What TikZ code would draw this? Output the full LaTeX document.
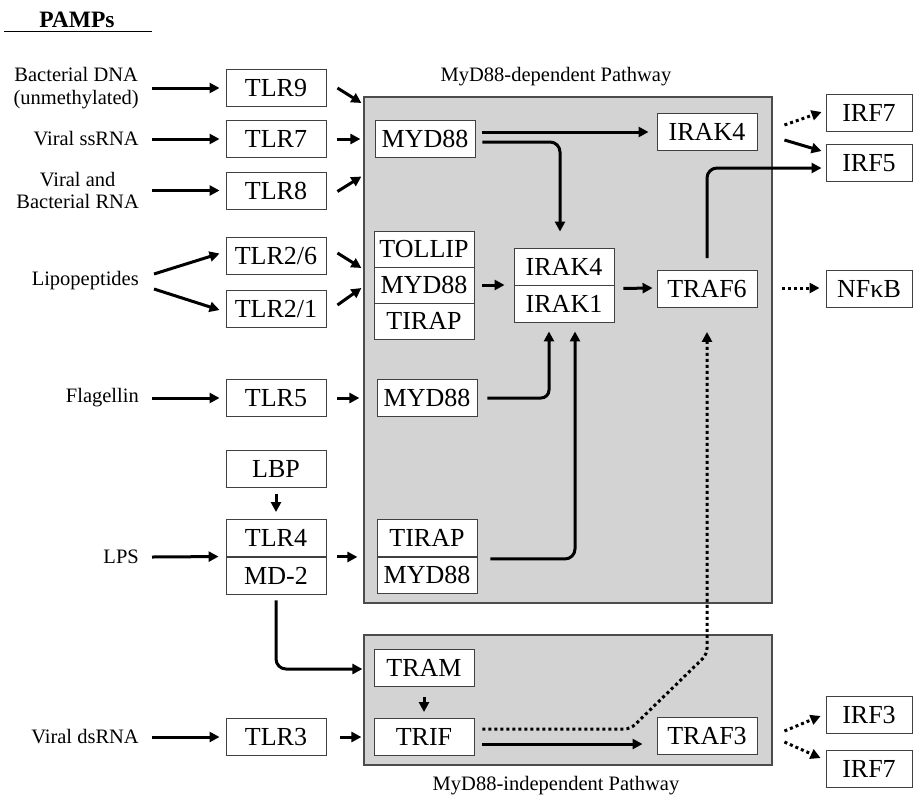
\documentclass[tikz,border=0pt]{standalone}
\usepackage{fontspec}
\setmainfont{Liberation Serif}
\usetikzlibrary{arrows.meta,calc}
\definecolor{panelgray}{RGB}{211,211,211}

\begin{document}
\begin{tikzpicture}[x=1pt,y=-1pt,
  box/.style={draw=black!75, line width=0.9pt, fill=white, minimum width=100pt,
    minimum height=37pt, inner sep=0pt, font=\fontsize{26}{28}\selectfont,
    text height=17pt, text depth=0pt},
  irf/.style={box, minimum width=86pt},
  lbl/.style={inner sep=0pt, align=center, font=\fontsize{20.5}{22.5}\selectfont, anchor=east},
  title/.style={inner sep=0pt, font=\fontsize{20.5}{22.5}\selectfont},
  panel/.style={draw=black!70, line width=1.2pt, fill=panelgray, inner sep=0pt},
  arr/.style={line width=3pt, -{Triangle[length=10pt,width=10pt]}},
  dotarr/.style={arr, dash pattern=on 3pt off 3pt},
]
\useasboundingbox (0,0) rectangle (917,801);

% pathway panels
\node[panel, minimum width=408pt, minimum height=506pt] (dep) at (568,350) {};
\node[panel, minimum width=408pt, minimum height=130pt] (indep) at (568,700) {};
\node[title] (deplbl) at (556,77) {MyD88-dependent Pathway};
\node[title] (indeplbl) at (556,786) {MyD88-independent Pathway};

% heading
\node[inner sep=0pt, font=\fontsize{23.5}{26}\selectfont\bfseries] (pamps) at (77,20) {PAMPs};
\draw[line width=1pt] (4,31) -- (152,31);

% ligands
\node[lbl] (bdna) at (139,88) {Bacterial DNA\\(unmethylated)};
\node[lbl] (ssrna) at (139,139) {Viral ssRNA};
\node[lbl] (vbrna) at (139,190.5) {Viral and\\Bacterial RNA};
\node[lbl] (lipo) at (139,281) {Lipopeptides};
\node[lbl] (flag) at (139,398) {Flagellin};
\node[lbl] (lps) at (139,557) {LPS};
\node[lbl] (dsrna) at (139,737) {Viral dsRNA};

% receptors
\node[box] (tlr9) at (276,88) {TLR9};
\node[box] (tlr7) at (276,139) {TLR7};
\node[box] (tlr8) at (276,190.5) {TLR8};
\node[box] (tlr26) at (276,255.5) {TLR2/6};
\node[box] (tlr21) at (276,309) {TLR2/1};
\node[box] (tlr5) at (276,398) {TLR5};
\node[box] (lbp) at (276,469) {LBP};
\node[box] (tlr4) at (276,538) {TLR4};
\node[box] (md2) at (276,575.5) {MD-2};
\node[box] (tlr3) at (276,737) {TLR3};

% adaptors and kinases
\node[box] (myda) at (425,138.5) {MYD88};
\node[box, minimum height=36pt] (tollip) at (424,249) {TOLLIP};
\node[box, minimum height=36pt] (mydb) at (424,285) {MYD88};
\node[box, minimum height=36pt] (tirapa) at (424,321) {TIRAP};
\node[box] (irak4) at (564,266.5) {IRAK4};
\node[box] (irak1) at (564,303.5) {IRAK1};
\node[box] (mydc) at (427,398) {MYD88};
\node[box] (tirapb) at (427,538) {TIRAP};
\node[box, minimum height=36pt] (mydd) at (427,575) {MYD88};
\node[box] (iraktop) at (707,131.5) {IRAK4};
\node[box] (traf6) at (707,289) {TRAF6};
\node[box] (tram) at (424,668) {TRAM};
\node[box] (trif) at (424,737) {TRIF};
\node[box] (traf3) at (707,736) {TRAF3};

% transcription factors
\node[irf] (irf7a) at (869,113) {IRF7};
\node[irf] (irf5) at (869,163) {IRF5};
\node[irf] (nfkb) at (869,289) {NFκB};
\node[irf] (irf3) at (869,715) {IRF3};
\node[irf] (irf7b) at (869,769) {IRF7};

% ligand -> receptor
\draw[arr] ($(bdna.east)+(13,0)$) -- ($(tlr9.west)+(-6,0)$);
\draw[arr] ($(ssrna.east)+(13,0)$) -- ($(tlr7.west)+(-6,0)$);
\draw[arr] ($(vbrna.east)+(13,0)$) -- ($(tlr8.west)+(-6,0)$);
\draw[arr] ($(lipo.east)+(15,-7)$) -- ($(tlr26.west)+(-6,-2)$);
\draw[arr] ($(lipo.east)+(15,8)$) -- ($(tlr21.west)+(-6,1)$);
\draw[arr] ($(flag.east)+(13,0)$) -- ($(tlr5.west)+(-6,0)$);
\draw[arr] ($(lps.east)+(13,0)$) -- ($(md2.north west)+(-7,0)$);
\draw[arr] ($(dsrna.east)+(13,0)$) -- ($(tlr3.west)+(-6,0)$);
\draw[arr] ($(lbp.south)+(0,6)$) -- ($(tlr4.north)+(0,-7)$);

% receptor -> pathway
\draw[arr] ($(tlr9.east)+(11,0)$) -- ($(dep.west|-tlr9.east)+(-2,15)$);
\draw[arr] ($(tlr7.east)+(11,0)$) -- ($(dep.west|-tlr7.east)+(-3,0)$);
\draw[arr] ($(tlr8.east)+(11,1)$) -- ($(dep.west|-tlr8.east)+(-2,-14)$);
\draw[arr] ($(tlr26.east)+(11,-2.5)$) -- ($(dep.west|-tlr26.east)+(-2,12.5)$);
\draw[arr] ($(tlr21.east)+(11,-4)$) -- ($(dep.west|-tlr21.east)+(-2,-21)$);
\draw[arr] ($(tlr5.east)+(11,0)$) -- ($(dep.west|-tlr5.east)+(-4,0)$);
\draw[arr] ($(tlr4.south east)+(11,0)$) -- ($(dep.west|-tlr4.south)+(-6,0)$);
\draw[arr] ($(tlr3.east)+(14,0)$) -- ($(indep.west|-tlr3.east)+(-2,0)$);
\draw[arr, rounded corners=10pt] ($(md2.south)+(0,6)$) |- ($(indep.west|-tram)+(-1,1)$);
\draw[arr] ($(tram.south)+(0,10)$) -- ($(trif.north)+(0,-6)$);

% MyD88-dependent signalling
\draw[arr] ($(myda.east)+(7,-6.5)$) -- ($(iraktop.west)+(-8,0.5)$);
\draw[arr, rounded corners=10pt] ($(myda.east)+(7,3.5)$) -| ($(irak4.north)+(-4,-16)$);
\draw[arr] ($(mydb.east)+(8,0)$) -- ($(irak4.west|-mydb.east)+(-9,0)$);
\draw[arr, rounded corners=8pt] ($(mydc.east)+(10,0)$) -| ($(irak1.south)+(-15,9)$);
\draw[arr, rounded corners=10pt] ($(tirapb.south east)+(13,2)$) -| ($(irak1.south)+(11,9)$);
\draw[arr] ($(irak4.south east)+(9,3)$) -- ($(traf6.west)+(-4,-1)$);
\draw[arr, rounded corners=10pt] ($(traf6.north)+(0,-12)$) |- ($(irf5.west)+(-4,5)$);
\draw[dotarr] ($(iraktop.east)+(27,-6.5)$) -- ($(irf7a.west)+(-4,-1)$);
\draw[arr] ($(iraktop.east)+(27,8.5)$) -- ($(irf5.west)+(-4,-12)$);
\draw[dotarr] ($(traf6.east)+(25,-1)$) -- ($(nfkb.west)+(-6,-1)$);

% MyD88-independent signalling
\draw[arr] ($(trif.east)+(8,7)$) -- ($(traf3.west)+(-14,8)$);
\draw[dotarr, rounded corners=6pt] ($(trif.east)+(8,-8)$) -- ($(trif.east)+(156,-8)$)
  -- ($(traf6.south|-indep.north)+(0,20)$) -- ($(traf6.south)+(0,24)$);
\draw[dotarr] ($(traf3.east)+(27,-5)$) -- ($(irf3.west)+(-5,1)$);
\draw[dotarr] ($(traf3.east)+(27,6)$) -- ($(irf7b.west)+(-5,-11)$);
\end{tikzpicture}
\end{document}
